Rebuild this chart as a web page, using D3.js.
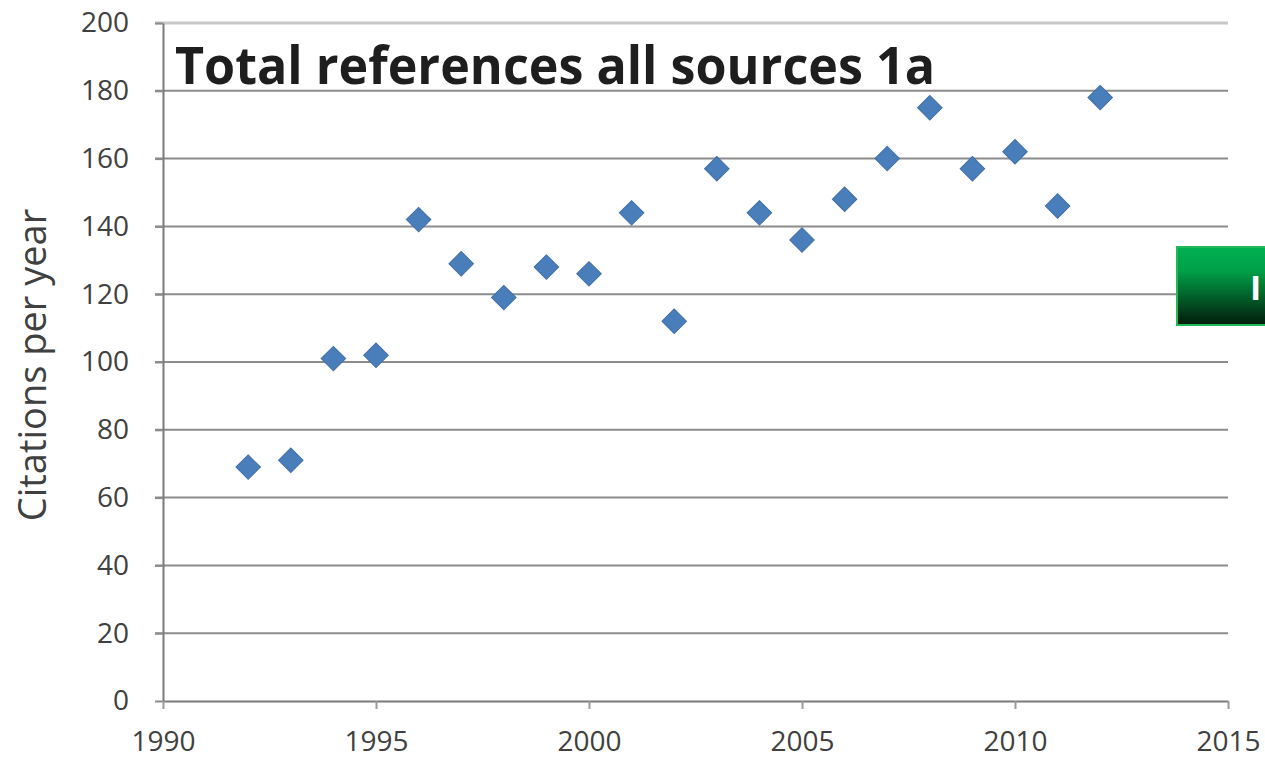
<!DOCTYPE html>
<html>
<head>
<meta charset="utf-8">
<script src="https://cdn.jsdelivr.net/npm/d3@7"></script>
<style>
  html, body { margin: 0; padding: 0; background: #fff; }
  svg { display: block; }
</style>
</head>
<body>
<svg id="chart" width="1265" height="761"></svg>
<script>
// Citations per year, total across all sources
const years = [1992, 1993, 1994, 1995, 1996, 1997, 1998, 1999, 2000, 2001, 2002,
               2003, 2004, 2005, 2006, 2007, 2008, 2009, 2010, 2011, 2012];
const citations = [69, 71, 101, 102, 142, 129, 119, 128, 126, 144, 112,
                   157, 144, 136, 148, 160, 175, 157, 162, 146, 178];
const xTicks = [1990, 1995, 2000, 2005, 2010, 2015];
const yTicks = [0, 20, 40, 60, 80, 100, 120, 140, 160, 180, 200];
const titleText = "Total references all sources 1a";
const yLabel = "Citations per year";

const svg = d3.select("#chart");
const W = 1265, H = 761;
const margin = { left: 163, right: W - 1228, top: 23, bottom: H - 701 };

const x = d3.scaleLinear().domain([1990, 2015]).range([margin.left, W - margin.right]);
const y = d3.scaleLinear().domain([0, 200]).range([H - margin.bottom, margin.top]);

const labelFont = "'Open Sans', 'DejaVu Sans', sans-serif";

// horizontal gridlines
svg.append("g")
  .selectAll("line")
  .data(yTicks.filter(d => d > 0))
  .join("line")
  .attr("x1", x(1990) - 8)
  .attr("x2", x(2015))
  .attr("y1", d => y(d))
  .attr("y2", d => y(d))
  .attr("stroke", d => d === 200 ? "#c8c8c8" : "#8c8c8c")
  .attr("stroke-width", d => d === 200 ? 3 : 2);

// y axis
const yAxis = svg.append("g")
  .attr("transform", `translate(${x(1990)},0)`)
  .call(d3.axisLeft(y).tickValues(yTicks).tickSize(8).tickPadding(26).tickSizeOuter(0));
yAxis.select(".domain").attr("stroke", "#7a7a7a").attr("stroke-width", 2);
yAxis.selectAll(".tick line").attr("stroke", "#8c8c8c").attr("stroke-width", 2);
yAxis.selectAll(".tick text")
  .attr("font-family", labelFont)
  .attr("font-size", 28)
  .attr("fill", "#404040");

// x axis
const xAxis = svg.append("g")
  .attr("transform", `translate(0,${y(0)})`)
  .call(d3.axisBottom(x).tickValues(xTicks).tickFormat(d3.format("d")).tickSize(8).tickPadding(22).tickSizeOuter(0));
xAxis.select(".domain").attr("stroke", "#7a7a7a").attr("stroke-width", 2);
xAxis.selectAll(".tick line").attr("stroke", "#9a9a9a").attr("stroke-width", 2);
xAxis.selectAll(".tick text")
  .attr("font-family", labelFont)
  .attr("font-size", 28)
  .attr("fill", "#404040");

// y axis title
svg.append("text")
  .attr("transform", `translate(46,${(y(0) + y(200)) / 2 + 3}) rotate(-90)`)
  .attr("text-anchor", "middle")
  .attr("font-family", labelFont)
  .attr("font-size", 38)
  .attr("fill", "#404040")
  .text(yLabel);

// chart title inside the plot area
svg.append("text")
  .attr("x", 175)
  .attr("y", 84)
  .attr("font-family", "'Open Sans', 'DejaVu Sans', sans-serif")
  .attr("font-weight", "bold")
  .attr("font-size", 52)
  .attr("textLength", 760)
  .attr("lengthAdjust", "spacingAndGlyphs")
  .attr("fill", "#1e1e1e")
  .text(titleText);

// diamond markers
const diamond = d3.symbol().type(d3.symbolSquare).size(300);
svg.append("g")
  .selectAll("path")
  .data(years.map((yr, i) => ({ yr, v: citations[i] })))
  .join("path")
  .attr("d", diamond)
  .attr("transform", d => `translate(${x(d.yr)},${y(d.v)}) rotate(45)`)
  .attr("fill", "#4a7ebb")
  .attr("stroke", "#3f6fa8")
  .attr("stroke-width", 1);

// green button on the right edge
const defs = svg.append("defs");
const grad = defs.append("linearGradient")
  .attr("id", "btnGrad")
  .attr("x1", 0).attr("y1", 0).attr("x2", 0).attr("y2", 1);
grad.append("stop").attr("offset", "0%").attr("stop-color", "#00b050");
grad.append("stop").attr("offset", "30%").attr("stop-color", "#00a148");
grad.append("stop").attr("offset", "100%").attr("stop-color", "#031a0a");

svg.append("rect")
  .attr("x", 1177)
  .attr("y", 247)
  .attr("width", 100)
  .attr("height", 78)
  .attr("fill", "url(#btnGrad)")
  .attr("stroke", "#22b85a")
  .attr("stroke-width", 2);

svg.append("text")
  .attr("x", 1250)
  .attr("y", 300)
  .attr("font-family", "'Open Sans', sans-serif")
  .attr("font-weight", "bold")
  .attr("font-size", 34)
  .attr("fill", "#ffffff")
  .text("I");
</script>
</body>
</html>
